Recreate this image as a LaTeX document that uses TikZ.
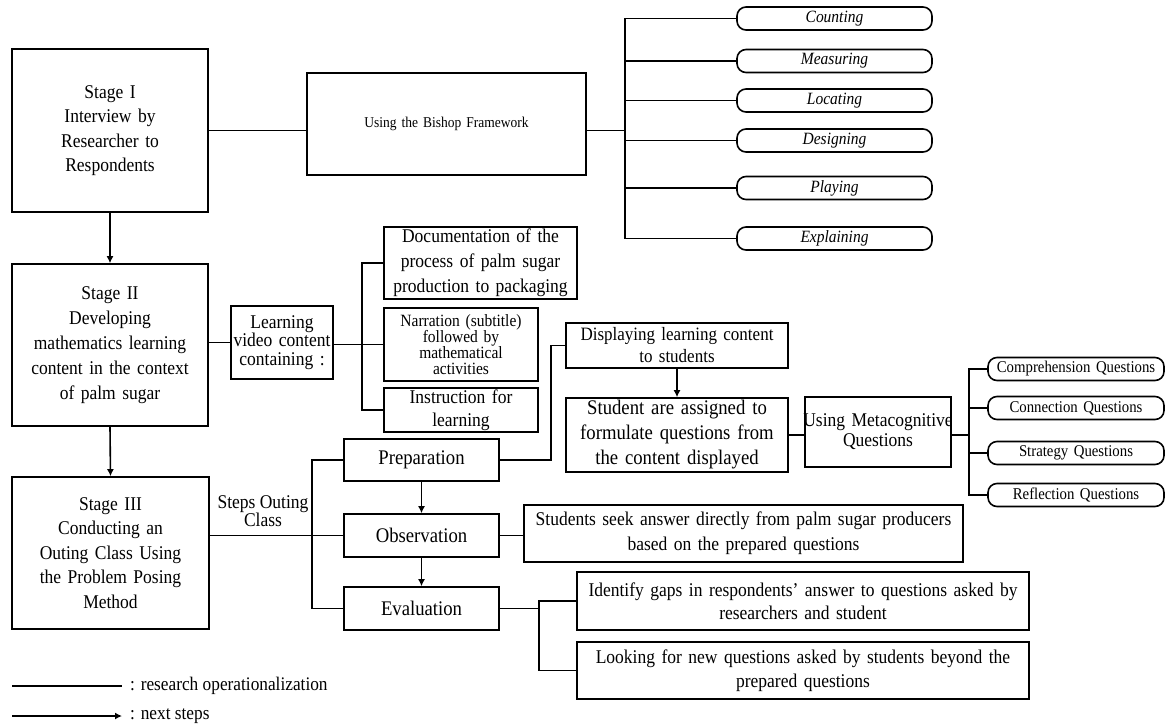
\documentclass[tikz,border=0pt]{standalone}
\usepackage{fontspec}
\setmainfont{Liberation Serif}[FakeStretch=0.9]
\usetikzlibrary{arrows.meta}
% font size given as width-equivalent size; glyphs are set 1/0.9 taller and stretched 0.9
\newcommand\fsz[2]{\fontsize{\fpeval{#1/0.9}pt}{#2pt}\selectfont}
\begin{document}
\begin{tikzpicture}[x=1pt,y=-1pt,
 box/.style={draw, line width=1.6pt, inner sep=0pt, align=center},
 pill/.style={box, rounded corners=9pt, minimum height=23pt, text width=195pt, font=\fsz{15.5}{18}\itshape},
 qpill/.style={box, rounded corners=9pt, minimum height=23pt, text width=176pt, font=\fsz{14.8}{18}},
 conn/.style={line width=1.6pt},
 arr/.style={line width=1.6pt, -{Latex[length=7pt,width=7pt]}},
 lbl/.style={inner sep=0pt, align=center},
]
\useasboundingbox (0,0) rectangle (1166,726);

% Stage boxes
\node[box, text width=196pt, minimum height=163pt, font=\fsz{17.5}{24.5}] (s1) at (110,130.5) {Stage I\\Interview by\\Researcher to\\Respondents};
\node[box, text width=196pt, minimum height=162pt, font=\fsz{17.5}{25}] (s2) at (110,345) {Stage II\\Developing\\mathematics learning\\content in the context\\of palm sugar};
\node[box, text width=197pt, minimum height=152pt, font=\fsz{17.5}{24.5}] (s3) at (110.5,553) {Stage III\\Conducting an\\Outing Class Using\\the Problem Posing\\Method};

% Bishop
\node[box, text width=279pt, minimum height=102pt, font=\fsz{13.5}{18}] (bishop) at (446.5,124) {Using the Bishop Framework};
\node[pill] (counting) at (834.5,18.5) {Counting};
\node[pill] (measuring) at (834.5,61) {Measuring};
\node[pill] (locating) at (834.5,100.5) {Locating};
\node[pill] (designing) at (834.5,140.5) {Designing};
\node[pill] (playing) at (834.5,188) {Playing};
\node[pill] (explaining) at (834.5,238.5) {Explaining};

% Stage II branch
\node[box, text width=102pt, minimum height=73pt, font=\fsz{17.5}{18.5}] (learn) at (282,342.5) {Learning\\video content\\containing :};
\node[box, text width=193pt, minimum height=72pt, font=\fsz{17.5}{25}] (doc) at (480.5,263) {Documentation of the\\process of palm sugar\\production to packaging};
\node[box, text width=154pt, minimum height=73pt, font=\fsz{15.5}{16}] (narr) at (461,344.5) {Narration (subtitle)\\followed by\\mathematical\\activities};
\node[box, text width=154pt, minimum height=44pt, font=\fsz{17.5}{23}] (instr) at (461,410) {Instruction for\\learning};

% Stage III branch
\node[lbl, font=\fsz{17.5}{18}] (steps) at (263,511) {Steps Outing\\Class};
\node[box, text width=155pt, minimum height=42pt, font=\fsz{18.7}{22}] (prep) at (421.5,460) {Preparation};
\node[box, text width=155pt, minimum height=43pt, font=\fsz{18.7}{22}] (obs) at (421.5,535.5) {Observation};
\node[box, text width=155pt, minimum height=43pt, font=\fsz{18.7}{22}] (eval) at (421.5,608.5) {Evaluation};

\node[box, text width=222pt, minimum height=45pt, font=\fsz{17}{22}] (disp) at (677,345.5) {Displaying learning content\\to students};
\node[box, text width=222pt, minimum height=74pt, font=\fsz{18.7}{25}] (stud) at (677,435) {Student are assigned to\\formulate questions from\\the content displayed};
\node[box, text width=146pt, minimum height=70pt, font=\fsz{17.5}{20}] (meta) at (878,432) {\makebox[\linewidth]{Using Metacognitive}\\Questions};
\node[qpill] (comp) at (1076,369) {Comprehension Questions};
\node[qpill] (connq) at (1076,408) {Connection Questions};
\node[qpill] (strat) at (1076,453) {Strategy Questions};
\node[qpill] (refl) at (1076,495) {Reflection Questions};

\node[box, text width=439pt, minimum height=57pt, font=\fsz{17.5}{25}] (seek) at (743.5,533.5) {Students seek answer directly from palm sugar producers\\based on the prepared questions};
\node[box, text width=452pt, minimum height=58pt, font=\fsz{17.5}{23}] (ident) at (803,601) {Identify gaps in respondents’ answer to questions asked by\\researchers and student};
\node[box, text width=452pt, minimum height=57pt, font=\fsz{17.5}{24}] (look) at (803,670.5) {Looking for new questions asked by students beyond the\\prepared questions};

% Legend
\coordinate (la) at (12,686);
\coordinate (lb) at (122,686);
\coordinate (lc) at (12,716);
\coordinate (ld) at (122,716);
\draw[conn] (la) -- (lb);
\draw[arr] (lc) -- (ld);
\node[lbl, anchor=west, font=\fsz{17.3}{20}] (lg1) at (130,686) {: research operationalization};
\node[lbl, anchor=west, font=\fsz{17.3}{20}] (lg2) at (130,716) {: next steps};

% Connectors
\coordinate (bb) at (625,0);
\coordinate (b2) at (362,0);
\coordinate (b3) at (312,0);
\coordinate (b4) at (551,0);
\coordinate (b5) at (969,0);
\coordinate (b6) at (539,0);

\draw[conn] (s1.east) -- (s1.east -| bishop.west);
\draw[conn] (bishop.east |- s1.east) -- (bb |- s1.east);
\draw[conn] (counting.west) -- (bb |- counting.west) -- (bb |- explaining.west) -- (explaining.west);
\foreach \n in {measuring,locating,designing,playing}
  \draw[conn] (bb |- \n.west) -- (\n.west);

\draw[arr] (s1.south) -- (s2.north);
\draw[arr] (s2.south) -- (s3.north);

\draw[conn] (learn.west) -- (learn.west -| s2.east);
\draw[conn] (doc.west) -- (b2 |- doc.west) -- (b2 |- instr.west) -- (instr.west);
\draw[conn] (narr.west -| learn.east) -- (narr.west);

\draw[conn] (prep.west) -- (b3 |- prep.west) -- (b3 |- eval.west) -- (eval.west);
\draw[conn] (s3.east |- obs.west) -- (obs.west);
\draw[arr] (prep.south) -- (obs.north);
\draw[arr] (obs.south) -- (eval.north);

\draw[conn] (prep.east) -- (b4 |- prep.east) -- (b4 |- disp.west) -- (disp.west);
\draw[arr] (disp.south) -- (stud.north);
\draw[conn] (stud.east) -- (stud.east -| meta.west);
\draw[conn] (meta.east |- stud.east) -- (b5 |- stud.east);
\draw[conn] (comp.west) -- (b5 |- comp.west) -- (b5 |- refl.west) -- (refl.west);
\draw[conn] (b5 |- connq.west) -- (connq.west);
\draw[conn] (b5 |- strat.west) -- (strat.west);

\draw[conn] (obs.east) -- (obs.east -| seek.west);
\draw[conn] (ident.west) -- (b6 |- ident.west) -- (b6 |- look.west) -- (look.west);
\draw[conn] (eval.east) -- (b6 |- eval.east);
\end{tikzpicture}
\end{document}
